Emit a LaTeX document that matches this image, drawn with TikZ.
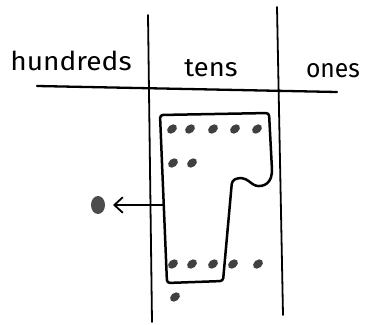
\documentclass[tikz,border=0pt]{standalone}
\usepackage{fontspec}
\setmainfont{Fira Sans}
\usetikzlibrary{shapes.geometric, arrows.meta, positioning}

\begin{document}
\begin{tikzpicture}[
  x=1pt, y=-1pt,
  label/.style={font=\fontsize{26}{28}\selectfont, inner sep=0pt},
  dot/.style={ellipse, fill=black!75, minimum width=11pt, minimum height=8pt, inner sep=0pt, rotate=40},
  bigdot/.style={ellipse, fill=black!70, minimum width=14pt, minimum height=18pt, inner sep=0pt},
  rule/.style={line width=1.8pt, line cap=round},
  arr/.style={-{Straight Barb[length=3mm, width=5.5mm]}, line width=1.8pt},
]
\useasboundingbox (0,0) rectangle (366,324);

% place value chart
\coordinate (v1t) at (148,15);
\coordinate (v1b) at (152,322);
\coordinate (v2t) at (277,7);
\coordinate (v2b) at (283,315);
\coordinate (hl) at (37,86);
\coordinate (hr) at (337,92);
\draw[rule] (v1t) -- (v1b);
\draw[rule] (v2t) -- (v2b);
\draw[rule, line width=2.3pt] (hl) -- (hr);

\node[label, xscale=1.08] (hun) at (71,61) {hundreds};
\node[label, xscale=1.05] (ten) at (211,68) {tens};
\node[label, xscale=0.95] (one) at (333,71) {ones};

% dots in the tens column
\foreach \x [count=\i] in {172,190,213,235,257}
  \node[dot] (a\i) at (\x,129) {};
\foreach \x [count=\i] in {173,192}
  \node[dot] (b\i) at (\x,163) {};
\foreach \x [count=\i] in {173,192,213,233,258}
  \node[dot] (c\i) at (\x,264) {};
\node[dot] (d1) at (175,297) {};

% the loop round the dots taken out
\draw[line width=2.5pt, rounded corners=3pt]
  (160,115) -- (269,113) -- (272,170)
  .. controls (271,186) and (259,188) .. (251,183)
  .. controls (245,178) and (239,177) .. (232,181)
  -- (223,281) -- (167,283) -- cycle;

\node[bigdot] (out) at (98,205) {};
\coordinate (pull) at (162.5,205);
\coordinate (tip) at (113,205);

% Arrows
\draw[arr] (pull) -- (tip);
\end{tikzpicture}
\end{document}
